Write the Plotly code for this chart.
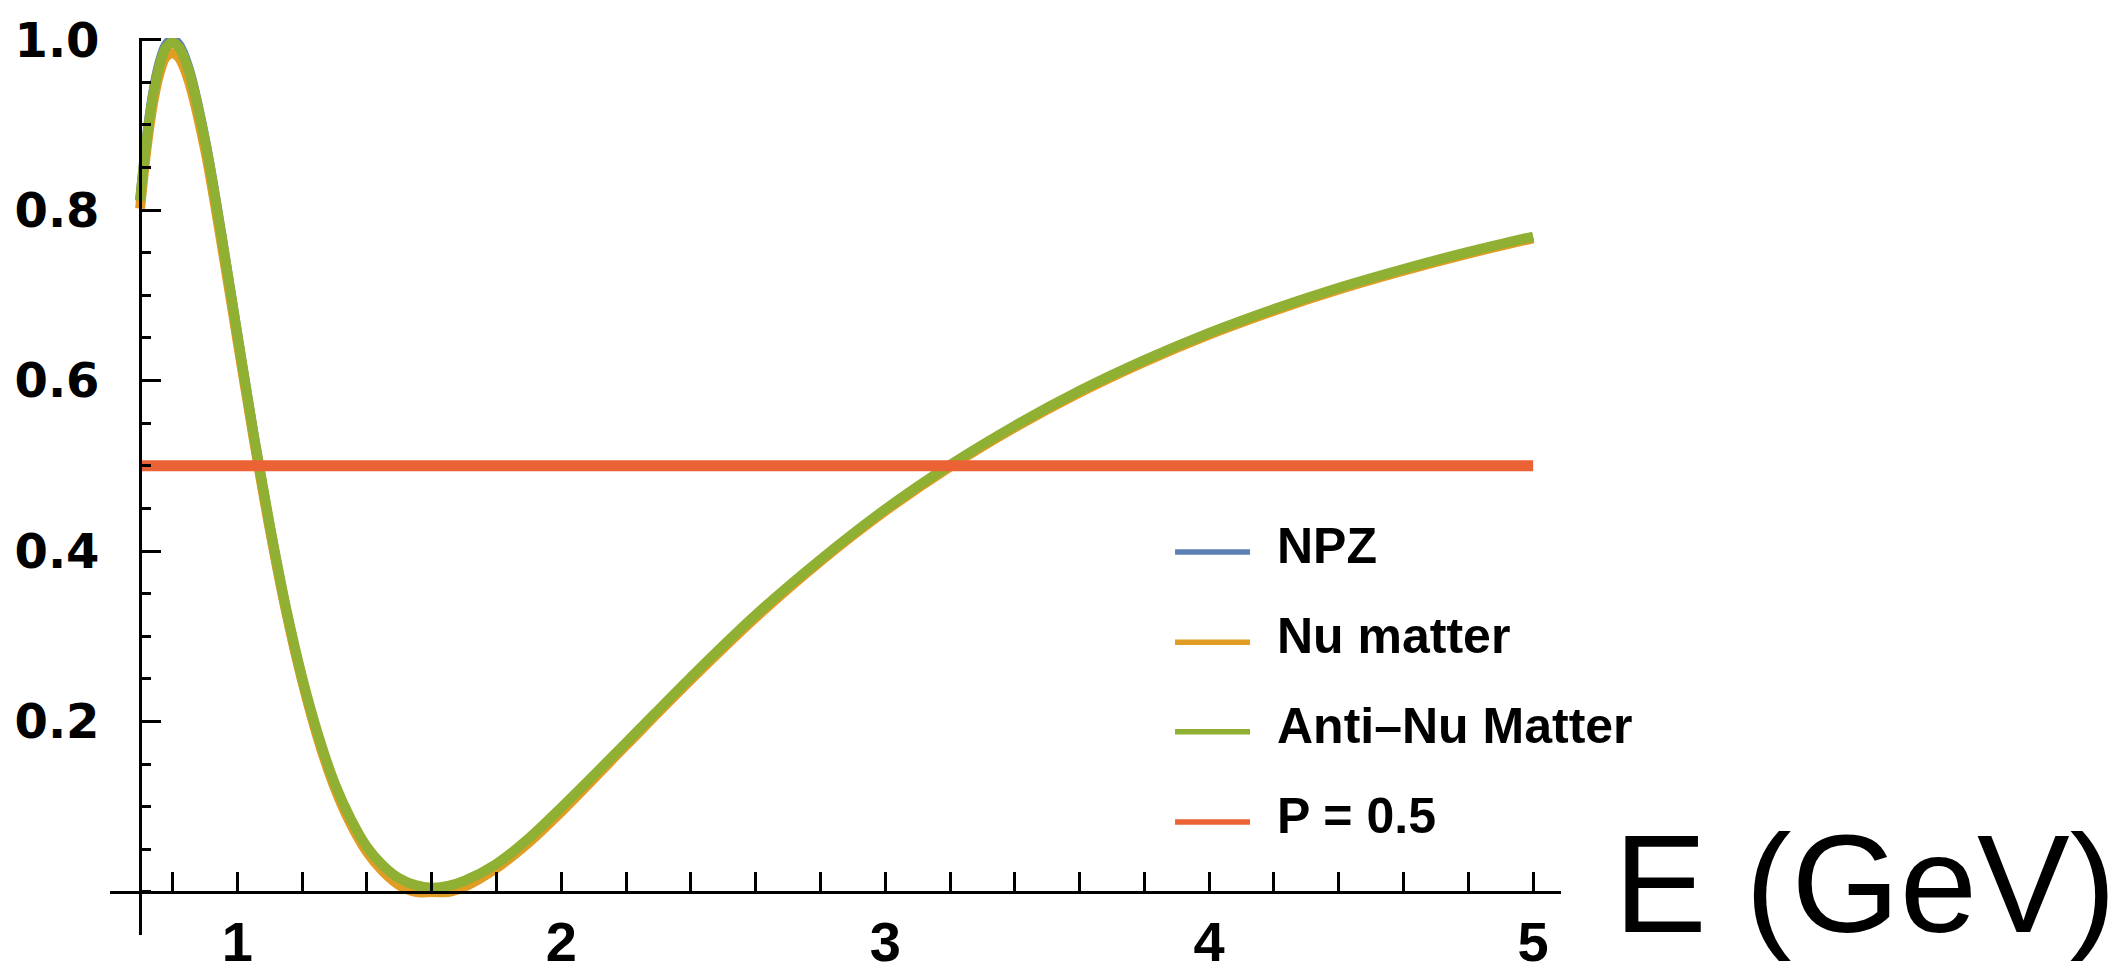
import plotly.graph_objects as go

# probability vs neutrino energy
energy = [0.70, 0.72, 0.74, 0.76, 0.78, 0.80, 0.82, 0.85, 0.90, 0.95,
          1.00, 1.05, 1.10, 1.15, 1.20, 1.25, 1.30, 1.35, 1.40, 1.45,
          1.50, 1.55, 1.60, 1.65, 1.70, 1.80, 1.90, 2.00, 2.20, 2.40,
          2.60, 2.80, 3.00, 3.20, 3.40, 3.60, 3.80, 4.00, 4.20, 4.40,
          4.60, 4.80, 5.00]
npz = [0.812, 0.883, 0.937, 0.973, 0.994, 1.000, 0.994, 0.966, 0.883, 0.773,
       0.654, 0.537, 0.429, 0.332, 0.250, 0.181, 0.125, 0.082, 0.049, 0.026,
       0.011, 0.002, 0.000, 0.002, 0.009, 0.030, 0.060, 0.096, 0.173, 0.250,
       0.323, 0.389, 0.448, 0.500, 0.546, 0.587, 0.623, 0.655, 0.683, 0.708,
       0.730, 0.750, 0.768]
nu_matter = [0.802, 0.873, 0.926, 0.961, 0.980, 0.984, 0.979, 0.952, 0.872, 0.764,
             0.648, 0.533, 0.426, 0.330, 0.248, 0.179, 0.123, 0.080, 0.047, 0.024,
             0.008, 0.000, 0.000, 0.000, 0.006, 0.028, 0.058, 0.094, 0.172, 0.249,
             0.322, 0.388, 0.447, 0.499, 0.545, 0.586, 0.622, 0.654, 0.682, 0.707,
             0.729, 0.749, 0.767]
antinu_matter = [0.811, 0.882, 0.935, 0.970, 0.991, 0.997, 0.991, 0.964, 0.882, 0.773,
                 0.655, 0.538, 0.431, 0.334, 0.252, 0.184, 0.128, 0.086, 0.053, 0.031,
                 0.016, 0.008, 0.005, 0.007, 0.013, 0.033, 0.063, 0.099, 0.175, 0.252,
                 0.325, 0.390, 0.449, 0.501, 0.547, 0.588, 0.624, 0.656, 0.684, 0.709,
                 0.731, 0.751, 0.769]
p_energy = [0.70, 5.00]
p_level = [0.5, 0.5]

names = ["NPZ", "Nu matter", "Anti–Nu Matter", "P = 0.5"]
colors = ["#5E81B5", "#E19C24", "#8FB032", "#EB6235"]

yticks = [0.2, 0.4, 0.6, 0.8, 1.0]
ytext = ["0.2", "0.4", "0.6", "0.8", "1.0"]
xticks = [1, 2, 3, 4, 5]

xr = [0.607, 5.086]
yr = [-0.0505, 1.002]

fig = go.Figure()
for ys, name, col in zip([npz, nu_matter, antinu_matter], names[:3], colors[:3]):
    fig.add_trace(go.Scatter(x=energy, y=ys, name=name, mode="lines", line_shape="spline",
                             line=dict(color=col, width=10), showlegend=False))
fig.add_trace(go.Scatter(x=p_energy, y=p_level, name=names[3], mode="lines",
                         line=dict(color=colors[3], width=11), showlegend=False))

fig.update_layout(
    width=2120, height=974,
    margin=dict(l=110, r=559, t=38, b=39),
    plot_bgcolor="white", paper_bgcolor="white",
    xaxis=dict(range=xr, anchor="free", position=(0 - yr[0]) / (yr[1] - yr[0]),
               showline=True, linecolor="black", linewidth=3, showgrid=False, zeroline=False,
               tickmode="array", tickvals=xticks, ticks="inside", ticklen=19, tickwidth=2.5,
               tickcolor="black", ticklabelstandoff=0, automargin=False,
               tickfont=dict(family="Liberation Sans", size=56, color="black", weight="bold"),
               minor=dict(dtick=0.2, tick0=0, ticks="inside", ticklen=19, tickwidth=2.5,
                          tickcolor="black", showgrid=False)),
    yaxis=dict(range=yr, anchor="free", position=(0.7 - xr[0]) / (xr[1] - xr[0]),
               showline=True, linecolor="black", linewidth=3, showgrid=False, zeroline=False,
               tickmode="array", tickvals=yticks, ticktext=ytext, ticks="inside", ticklen=19,
               tickwidth=2.5, tickcolor="black", ticklabelstandoff=30, automargin=False,
               tickfont=dict(family="DejaVu Sans", size=48, color="black", weight="bold"),
               minor=dict(dtick=0.05, tick0=0, ticks="inside", ticklen=9, tickwidth=2.5,
                          tickcolor="black", showgrid=False)),
)

# axis label at the right end of the x axis
fig.add_annotation(text="E (GeV)", xref="paper", yref="y", x=1.2092, y=0.01,
                   xanchor="center", yanchor="middle", showarrow=False,
                   font=dict(family="Liberation Sans", size=139, color="black"))

# legend drawn by hand so the line samples are as long as in the original
row_y = [0.399, 0.293, 0.188, 0.082]
for name, col, ry in zip(names, colors, row_y):
    fig.add_shape(type="line", xref="paper", yref="y", x0=0.734, x1=0.7857, y0=ry, y1=ry,
                  line=dict(color=col, width=5.5))
    fig.add_annotation(text=name, xref="paper", yref="y", x=0.803, y=ry + 0.007,
                       xanchor="left", yanchor="middle", showarrow=False,
                       font=dict(family="Liberation Sans", size=50, color="black", weight="bold"))

# drop the default body margin so the 2120x974 figure fills the window exactly
fig.write_html("out.html", config={"displayModeBar": False},
               post_script="document.body.style.margin='0px';")
